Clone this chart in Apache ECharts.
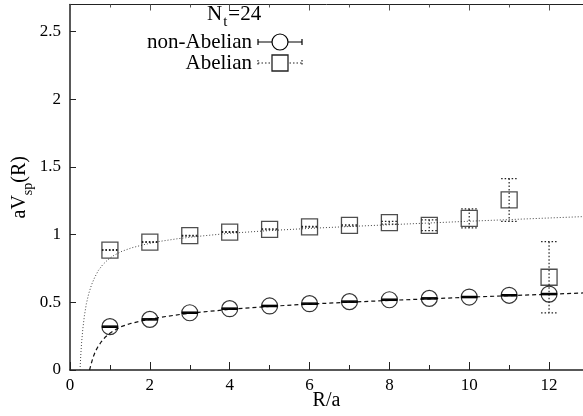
<!DOCTYPE html>
<html><head><meta charset="utf-8">
<script src="https://cdn.jsdelivr.net/npm/echarts@6/dist/echarts.min.js"></script>
<style>html,body{margin:0;padding:0;background:#fff}#c{width:583px;height:416px}</style>
</head><body><div id="c"></div>
<script>
// ---- data ----
const R = [1, 2, 3, 4, 5, 6, 7, 8, 9, 10, 11, 12];
const nonAbelian    = [0.320, 0.374, 0.423, 0.453, 0.473, 0.490, 0.505, 0.519, 0.529, 0.539, 0.552, 0.561];
const nonAbelianErr = [0.004, 0.004, 0.004, 0.004, 0.004, 0.004, 0.004, 0.004, 0.004, 0.004, 0.004, 0.004];
const abelian       = [0.886, 0.945, 0.992, 1.019, 1.039, 1.058, 1.069, 1.088, 1.069, 1.120, 1.256, 0.685];
const abelianErr    = [0.003, 0.003, 0.003, 0.003, 0.003, 0.003, 0.004, 0.010, 0.040, 0.070, 0.158, 0.263];

// fit curves
const fitNonAbelianR = [0.49, 0.53, 0.58, 0.64, 0.70, 0.78, 0.88, 1.0, 1.15, 1.3, 1.5, 1.75, 2, 2.4, 2.8, 3.3, 4, 5, 6, 7, 8, 9, 10, 11, 12, 12.85];
const fitNonAbelianV = [0, 0.045, 0.095, 0.14, 0.172, 0.207, 0.242, 0.272, 0.30, 0.322, 0.342, 0.36, 0.375, 0.395, 0.412, 0.428, 0.448, 0.470, 0.487, 0.501, 0.514, 0.526, 0.538, 0.549, 0.560, 0.569];
const fitAbelianR = [0.25, 0.27, 0.29, 0.32, 0.36, 0.41, 0.47, 0.54, 0.62, 0.71, 0.82, 0.95, 1.1, 1.3, 1.55, 1.85, 2.2, 2.7, 3.3, 4, 5, 6, 7, 8, 9, 10, 11, 12, 12.85];
const fitAbelianV = [0, 0.11, 0.2, 0.3, 0.4, 0.49, 0.565, 0.63, 0.685, 0.735, 0.778, 0.815, 0.847, 0.877, 0.903, 0.926, 0.948, 0.970, 0.990, 1.010, 1.030, 1.046, 1.060, 1.073, 1.086, 1.099, 1.111, 1.123, 1.133];

const xTickStep = 2;
const yTickStep = 0.5;
const xMax = 12.85;
const yMax = 2.7;

const FONT = 'Liberation Serif';
const zip = (a, b) => a.map((v, i) => [v, b[i]]);
const zip3 = (a, b, c) => a.map((v, i) => [v, b[i], c[i]]);

function errRenderer(stroke, width, dash) {
  return function (params, api) {
    const x = api.value(0), y = api.value(1), e = api.value(2);
    const hi = api.coord([x, y + e]), lo = api.coord([x, y - e]);
    const w = 8;
    const st = { stroke: stroke, lineWidth: width, lineDash: dash, fill: null };
    return { type: 'group', children: [
      { type: 'line', shape: { x1: hi[0], y1: hi[1], x2: lo[0], y2: lo[1] }, style: st },
      { type: 'line', shape: { x1: hi[0] - w, y1: hi[1], x2: hi[0] + w, y2: hi[1] }, style: st },
      { type: 'line', shape: { x1: lo[0] - w, y1: lo[1], x2: lo[0] + w, y2: lo[1] }, style: st }
    ]};
  };
}

const chart = echarts.init(document.getElementById('c'), null, { renderer: 'canvas' });
const axisCol = '#222';
chart.setOption({
  animation: false,
  backgroundColor: '#fff',
  grid: { left: 70, right: 0, top: 4.5, bottom: 46, containLabel: false, outerBoundsMode: 'none' },
  xAxis: [{
    type: 'value', min: 0, max: xMax, interval: xTickStep, position: 'bottom',
    splitLine: { show: false },
    axisLine: { lineStyle: { color: axisCol, width: 1.5 } },
    axisTick: { inside: true, length: 8, lineStyle: { color: axisCol, width: 1 } },
    minorTick: { show: true, splitNumber: 2, length: 5, lineStyle: { color: axisCol, width: 1 } },
    axisLabel: { color: '#000', fontFamily: FONT, fontSize: 17, margin: 7, showMaxLabel: false },
    name: 'R/a', nameLocation: 'middle', nameGap: 21, nameMoveOverlap: false,
    nameTextStyle: { color: '#000', fontFamily: FONT, fontSize: 20 }
  }, {
    type: 'value', min: 0, max: xMax, interval: xTickStep, position: 'top',
    splitLine: { show: false },
    axisLine: { lineStyle: { color: axisCol, width: 1 } },
    axisTick: { inside: true, length: 6, lineStyle: { color: '#555', width: 1 } },
    minorTick: { show: true, splitNumber: 2, length: 3, lineStyle: { color: '#555', width: 1 } },
    axisLabel: { show: false }
  }],
  yAxis: {
    type: 'value', min: 0, max: yMax, interval: yTickStep,
    splitLine: { show: false },
    axisLine: { lineStyle: { color: axisCol, width: 1.5 } },
    axisTick: { inside: true, length: 6, lineStyle: { color: axisCol, width: 1 } },
    axisLabel: { color: '#000', fontFamily: FONT, fontSize: 17, margin: 9, showMaxLabel: false },
    name: '{m|aV}{s|sp}{m|(R)}', nameLocation: 'middle', nameGap: 35, nameRotate: 90, nameMoveOverlap: false,
    nameTextStyle: { color: '#000', fontFamily: FONT, fontSize: 20,
      rich: {
        m: { fontFamily: FONT, fontSize: 20, color: '#000', lineHeight: 22 },
        s: { fontFamily: FONT, fontSize: 14, color: '#000', lineHeight: 30, verticalAlign: 'bottom' }
      } }
  },
  series: [
    { type: 'line', data: zip(fitAbelianR, fitAbelianV), smooth: false, showSymbol: false, symbol: 'none',
      lineStyle: { color: '#444', width: 1, type: [1, 2] }, silent: true, z: 1 },
    { type: 'line', data: zip(fitNonAbelianR, fitNonAbelianV), smooth: false, showSymbol: false, symbol: 'none',
      lineStyle: { color: '#111', width: 1.2, type: [4, 3] }, silent: true, z: 1 },
    { type: 'custom', data: zip3(R, abelian, abelianErr), renderItem: errRenderer('#222', 1.2, [1.5, 2]),
      encode: { x: 0, y: 1 }, silent: true, z: 2 },
    { type: 'custom', data: zip3(R, nonAbelian, nonAbelianErr), renderItem: errRenderer('#000', 1.5, null),
      encode: { x: 0, y: 1 }, silent: true, z: 2 },
    { type: 'scatter', data: zip(R, abelian), symbol: 'rect', symbolSize: 16,
      itemStyle: { color: 'rgba(0,0,0,0)', borderColor: '#222', borderWidth: 1.3 }, silent: true, z: 3 },
    { type: 'scatter', data: zip(R, nonAbelian), symbol: 'circle', symbolSize: 16,
      itemStyle: { color: 'rgba(0,0,0,0)', borderColor: '#000', borderWidth: 1.2 }, silent: true, z: 3 }
  ],
  graphic: [
    { type: 'text', left: 207, top: 4, z: 10,
      style: { text: '{m|N}{s|t}{m|=24}', fill: '#000', font: '21px ' + FONT,
        rich: { m: { fontFamily: FONT, fontSize: 21, lineHeight: 22 },
                s: { fontFamily: FONT, fontSize: 15, lineHeight: 30, verticalAlign: 'bottom', padding: [0, 1, 0, 1] } } } },
    { type: 'text', x: 252, y: 42, z: 10,
      style: { text: 'non-Abelian', fill: '#000', font: '21px ' + FONT, align: 'right', verticalAlign: 'middle' } },
    { type: 'line', z: 10, shape: { x1: 258, y1: 42, x2: 302, y2: 42 }, style: { stroke: '#000', lineWidth: 1.2 } },
    { type: 'line', z: 10, shape: { x1: 258, y1: 39, x2: 258, y2: 45 }, style: { stroke: '#000', lineWidth: 1.2 } },
    { type: 'line', z: 10, shape: { x1: 302, y1: 39, x2: 302, y2: 45 }, style: { stroke: '#000', lineWidth: 1.2 } },
    { type: 'circle', z: 11, shape: { cx: 280, cy: 42, r: 8 }, style: { fill: '#fff', stroke: '#000', lineWidth: 1.2 } },
    { type: 'text', x: 252, y: 63, z: 10,
      style: { text: 'Abelian', fill: '#000', font: '21px ' + FONT, align: 'right', verticalAlign: 'middle' } },
    { type: 'line', z: 10, shape: { x1: 258, y1: 63, x2: 302, y2: 63 }, style: { stroke: '#222', lineWidth: 1.2, lineDash: [1.5, 2] } },
    { type: 'line', z: 10, shape: { x1: 258, y1: 60, x2: 258, y2: 66 }, style: { stroke: '#222', lineWidth: 1.2, lineDash: [1.5, 1.5] } },
    { type: 'line', z: 10, shape: { x1: 302, y1: 60, x2: 302, y2: 66 }, style: { stroke: '#222', lineWidth: 1.2, lineDash: [1.5, 1.5] } },
    { type: 'rect', z: 11, shape: { x: 272, y: 55, width: 16, height: 16 }, style: { fill: '#fff', stroke: '#222', lineWidth: 1.3 } }
  ]
});
</script>
</body></html>
